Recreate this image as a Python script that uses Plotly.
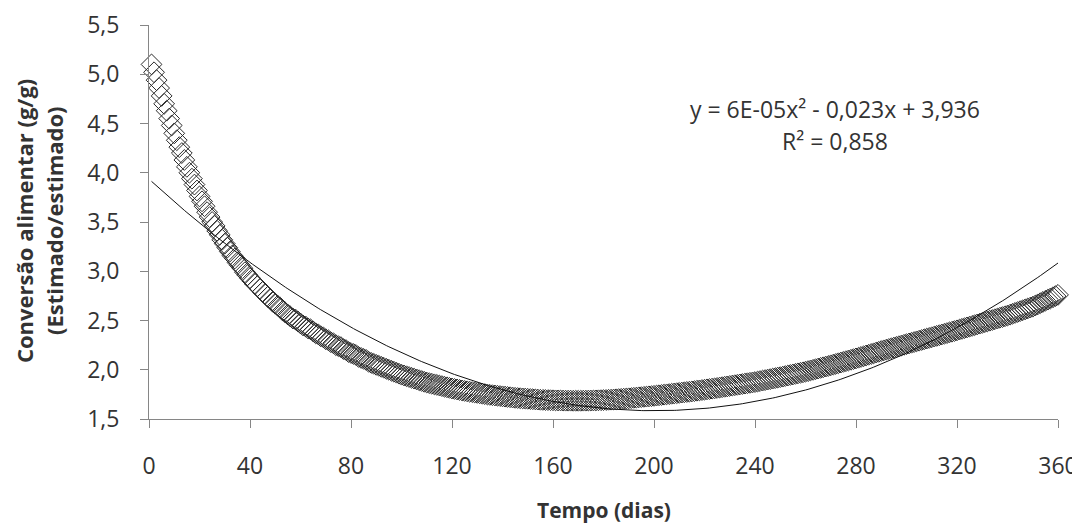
import numpy as np
import plotly.graph_objects as go

# Day index (x) and estimated feed conversion (y)
DAYS = list(range(1, 361))
CONVERSAO = [
    5.10, 5.02, 4.94, 4.86, 4.78, 4.70, 4.63, 4.55, 4.48, 4.40,
    4.33, 4.26, 4.20, 4.13, 4.06, 4.00, 3.94, 3.88, 3.82, 3.76,
    3.71, 3.66, 3.60, 3.55, 3.50, 3.46, 3.41, 3.37, 3.32, 3.28,
    3.24, 3.20, 3.16, 3.13, 3.09, 3.06, 3.03, 2.99, 2.96, 2.93,
    2.90, 2.87, 2.85, 2.82, 2.79, 2.77, 2.74, 2.72, 2.69, 2.67,
    2.65, 2.63, 2.60, 2.58, 2.56, 2.54, 2.52, 2.51, 2.49, 2.47,
    2.45, 2.44, 2.42, 2.41, 2.39, 2.37, 2.36, 2.34, 2.33, 2.31,
    2.30, 2.28, 2.27, 2.25, 2.24, 2.23, 2.21, 2.20, 2.18, 2.17,
    2.16, 2.15, 2.13, 2.12, 2.11, 2.10, 2.08, 2.07, 2.06, 2.05,
    2.04, 2.03, 2.02, 2.01, 2.00, 1.99, 1.98, 1.97, 1.96, 1.95,
    1.942, 1.934, 1.926, 1.918, 1.910, 1.902, 1.894, 1.886, 1.878, 1.870,
    1.864, 1.858, 1.852, 1.846, 1.840, 1.834, 1.828, 1.822, 1.816, 1.810,
    1.805, 1.800, 1.795, 1.790, 1.785, 1.781, 1.777, 1.773, 1.769, 1.765,
    1.761, 1.757, 1.753, 1.749, 1.745, 1.742, 1.739, 1.736, 1.733, 1.730,
    1.727, 1.724, 1.721, 1.718, 1.715, 1.713, 1.711, 1.709, 1.707, 1.705,
    1.703, 1.701, 1.699, 1.697, 1.695, 1.694, 1.693, 1.692, 1.691, 1.690,
    1.689, 1.688, 1.688, 1.687, 1.686, 1.686, 1.686, 1.685, 1.685, 1.685,
    1.685, 1.686, 1.686, 1.687, 1.687, 1.688, 1.689, 1.690, 1.691, 1.692,
    1.693, 1.695, 1.696, 1.698, 1.700, 1.702, 1.704, 1.706, 1.708, 1.710,
    1.712, 1.715, 1.717, 1.720, 1.722, 1.725, 1.727, 1.730, 1.732, 1.735,
    1.738, 1.741, 1.744, 1.747, 1.750, 1.753, 1.756, 1.759, 1.762, 1.765,
    1.768, 1.771, 1.774, 1.777, 1.780, 1.783, 1.787, 1.790, 1.794, 1.797,
    1.801, 1.804, 1.808, 1.811, 1.815, 1.819, 1.823, 1.827, 1.831, 1.835,
    1.839, 1.843, 1.847, 1.851, 1.855, 1.859, 1.863, 1.867, 1.871, 1.875,
    1.880, 1.885, 1.890, 1.895, 1.900, 1.905, 1.910, 1.915, 1.920, 1.925,
    1.930, 1.936, 1.941, 1.947, 1.952, 1.958, 1.963, 1.969, 1.974, 1.980,
    1.986, 1.993, 1.999, 2.006, 2.012, 2.019, 2.025, 2.032, 2.038, 2.045,
    2.052, 2.059, 2.066, 2.073, 2.080, 2.087, 2.094, 2.101, 2.108, 2.115,
    2.122, 2.130, 2.137, 2.145, 2.152, 2.160, 2.167, 2.175, 2.182, 2.190,
    2.197, 2.204, 2.211, 2.218, 2.225, 2.232, 2.239, 2.246, 2.253, 2.260,
    2.267, 2.274, 2.281, 2.288, 2.295, 2.302, 2.309, 2.316, 2.323, 2.330,
    2.337, 2.344, 2.351, 2.358, 2.365, 2.372, 2.379, 2.386, 2.393, 2.400,
    2.408, 2.415, 2.423, 2.430, 2.438, 2.445, 2.453, 2.460, 2.468, 2.475,
    2.483, 2.490, 2.498, 2.505, 2.513, 2.520, 2.528, 2.535, 2.543, 2.550,
    2.559, 2.568, 2.577, 2.586, 2.595, 2.604, 2.613, 2.622, 2.631, 2.640,
    2.652, 2.664, 2.676, 2.688, 2.700, 2.712, 2.724, 2.736, 2.748, 2.760,
]

# Polynomial trendline coefficients (a, b, c) of y = a x^2 + b x + c
TREND_COEFFS = [5.87e-5, -0.0235, 3.936]
EQUATION_TEXT = "y = 6E-05x² - 0,023x + 3,936"
R2_TEXT = "R² = 0,858"

X_TICKS = [0, 40, 80, 120, 160, 200, 240, 280, 320, 360]
Y_TICKS = [1.5, 2.0, 2.5, 3.0, 3.5, 4.0, 4.5, 5.0, 5.5]

trend_y = np.polyval(TREND_COEFFS, np.array(DAYS, dtype=float))

FONT = "Open Sans"
TXT = "#333333"
AX = "#868686"

fig = go.Figure()
fig.add_trace(go.Scatter(
    x=DAYS, y=CONVERSAO, mode="markers",
    marker=dict(symbol="diamond-open", size=16, color="#2a2a2a",
                line=dict(color="#2a2a2a", width=1)),
    cliponaxis=False, showlegend=False,
))
fig.add_trace(go.Scatter(
    x=DAYS, y=trend_y, mode="lines",
    line=dict(color="#111111", width=1),
    cliponaxis=False, showlegend=False,
))

# The page body adds an 8px offset; the figure size and margins compensate.
fig.update_layout(
    width=1072, height=516,
    margin=dict(l=141, r=22, t=17, b=105),
    paper_bgcolor="white", plot_bgcolor="white",
    separators=",.",
    font=dict(family=FONT, color=TXT),
    xaxis=dict(
        range=[0, 360], tickvals=X_TICKS, showgrid=False, zeroline=False,
        showline=True, linecolor=AX, linewidth=1, automargin=False,
        ticks="outside", ticklen=8, tickcolor=AX, tickwidth=1,
        tickfont=dict(size=23, family=FONT, color=TXT),
        ticklabelstandoff=18,
    ),
    yaxis=dict(
        range=[1.5, 5.5], tickvals=Y_TICKS, tickformat=".1f",
        showgrid=False, zeroline=False, automargin=False,
        showline=True, linecolor=AX, linewidth=1,
        ticks="outside", ticklen=8, tickcolor=AX, tickwidth=1,
        tickfont=dict(size=23, family=FONT, color=TXT),
        ticklabelstandoff=16,
    ),
    annotations=[
        dict(text=EQUATION_TEXT, xref="paper", yref="paper",
             x=0.7547, y=0.7868, xanchor="center", yanchor="middle",
             showarrow=False, font=dict(size=23, family=FONT, color=TXT)),
        dict(text=R2_TEXT, xref="paper", yref="paper",
             x=0.7547, y=0.7056, xanchor="center", yanchor="middle",
             showarrow=False, font=dict(size=23, family=FONT, color=TXT)),
        dict(text="<b>Conversão alimentar (g/g)</b>",
             xref="paper", yref="paper", x=-0.1375, y=0.5025,
             xanchor="center", yanchor="middle", textangle=-90,
             showarrow=False, font=dict(size=22, family=FONT, color=TXT)),
        dict(text="<b>(Estimado/estimado)</b>",
             xref="paper", yref="paper", x=-0.1045, y=0.5025,
             xanchor="center", yanchor="middle", textangle=-90,
             showarrow=False, font=dict(size=22, family=FONT, color=TXT)),
        dict(text="<b>Tempo (dias)</b>", xref="paper", yref="paper",
             x=0.5, y=-0.232, xanchor="center", yanchor="middle",
             showarrow=False, font=dict(size=21, family=FONT, color=TXT)),
    ],
)

fig.write_html("out.html")
